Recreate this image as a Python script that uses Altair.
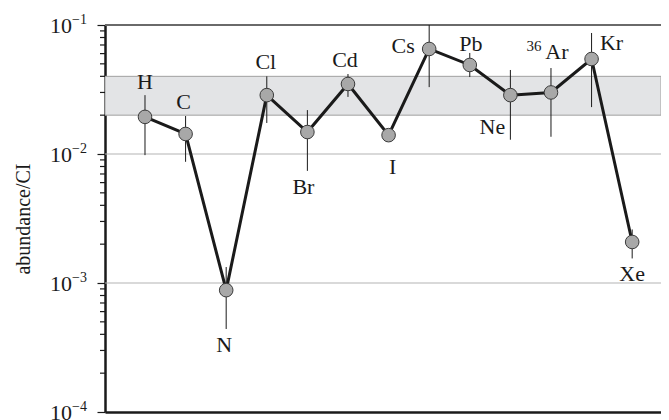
import altair as alt
import pandas as pd

# ---- data ----
elements = ["H", "C", "N", "Cl", "Br", "Cd", "I", "Cs", "Pb", "Ne", "Ar", "Kr", "Xe"]
abundance = [0.0194, 0.0143, 0.00088, 0.0286, 0.0148, 0.0349, 0.0140, 0.0652, 0.0490, 0.0286, 0.0300, 0.0545, 0.00208]
err_low = [0.0098, 0.0087, 0.00044, 0.0174, 0.0074, 0.0277, 0.0133, 0.0330, 0.0395, 0.0129, 0.0136, 0.0231, 0.00155]
err_high = [0.0286, 0.0197, 0.00133, 0.0400, 0.0219, 0.0417, 0.0148, 0.1000, 0.0607, 0.0448, 0.0464, 0.0867, 0.0026]
label_dx = [0, -2, -2, -1, -4, -3, 4, -26, 1, -18, 6, 20, 0]
label_dy = [-35, -32, 55, -33, 55, -24, 32, -3, -21, 32, -40, -16, 32]
band = [0.02, 0.04]
grid_values = [0.001, 0.01]
top_value = [0.1]
major_ticks = [1e-4, 1e-3, 1e-2, 1e-1]
tick_base = ["10", "10", "10", "10"]
tick_exp = ["−4", "−3", "−2", "−1"]
minor_ticks = [m * 10.0 ** e for e in (-4, -3, -2) for m in range(2, 10)]

W, H = 556, 387
FONT = "Liberation Serif"
INK = "#1a1a1a"

df = pd.DataFrame({
    "i": list(range(len(elements))),
    "el": elements,
    "v": abundance,
    "lo": err_low,
    "hi": err_high,
})

xs = alt.Scale(domain=[-0.985, 12.71])
ys = alt.Scale(type="log", domain=[1e-4, 1e-1])

x_enc = alt.X("i:Q", scale=xs, axis=alt.Axis(labels=False, ticks=False, grid=False, title=None,
                                            domainColor=INK, domainWidth=2.5))
y_axis = alt.Axis(values=major_ticks, labels=False, grid=False, title="abundance/CI",
                  domainColor=INK, domainWidth=2.5, tickColor=INK, tickSize=8,
                  tickWidth=1.2, titleFont=FONT, titleFontSize=20, titleFontWeight="normal",
                  titleColor=INK, titlePadding=63)

band_df = pd.DataFrame({"lo": [band[0]], "hi": [band[1]]})
band_layer = alt.Chart(band_df).mark_rect(fill="#e3e4e6", stroke="#a0a0a0", strokeWidth=1).encode(
    x=alt.value(0), x2=alt.value(W),
    y=alt.Y("lo:Q", scale=ys), y2="hi:Q")

grid_layer = alt.Chart(pd.DataFrame({"g": grid_values})).mark_rule(color="#b4b4b4", strokeWidth=1.2).encode(
    x=alt.value(0), x2=alt.value(W), y=alt.Y("g:Q", scale=ys))

top_layer = alt.Chart(pd.DataFrame({"g": top_value})).mark_rule(color="#6a6a6a", strokeWidth=2).encode(
    x=alt.value(0), x2=alt.value(W), y=alt.Y("g:Q", scale=ys))

minor_layer = alt.Chart(pd.DataFrame({"m": minor_ticks})).mark_rule(color=INK, strokeWidth=1.2).encode(
    x=alt.value(-5), x2=alt.value(0), y=alt.Y("m:Q", scale=ys))

tick_df = pd.DataFrame({"t": major_ticks, "b": tick_base, "e": tick_exp})
tick_base_layer = alt.Chart(tick_df).mark_text(font=FONT, fontSize=22, color=INK, align="right",
                                               baseline="middle", dy=1).encode(
    x=alt.value(-33), y=alt.Y("t:Q", scale=ys), text="b:N")
tick_exp_layer = alt.Chart(tick_df).mark_text(font=FONT, fontSize=14, color=INK, align="left",
                                              baseline="middle", dy=-5).encode(
    x=alt.value(-33), y=alt.Y("t:Q", scale=ys), text="e:N")

base = alt.Chart(df)
err_layer = base.mark_rule(color=INK, strokeWidth=1).encode(
    x=x_enc, y=alt.Y("lo:Q", scale=ys, axis=y_axis), y2="hi:Q")
line_layer = base.mark_line(color=INK, strokeWidth=3).encode(
    x=x_enc, y=alt.Y("v:Q", scale=ys))
pt_layer = base.mark_circle(size=185, color="#a8a8a8", stroke="#3a3a3a", strokeWidth=1, opacity=1).encode(
    x=x_enc, y=alt.Y("v:Q", scale=ys))

text_layers = []
for k in range(len(elements)):
    row = df.iloc[[k]]
    text_layers.append(
        alt.Chart(row).mark_text(font=FONT, fontSize=22, color=INK, align="center",
                                 baseline="middle", dx=label_dx[k], dy=label_dy[k]).encode(
            x=x_enc, y=alt.Y("v:Q", scale=ys), text="el:N"))

# superscript mass number for argon
ar_row = df[df["el"] == "Ar"].assign(mass="36")
sup_layer = alt.Chart(ar_row).mark_text(font=FONT, fontSize=15, color=INK, align="center",
                                        baseline="middle", dx=-17, dy=-46).encode(
    x=x_enc, y=alt.Y("v:Q", scale=ys), text="mass:N")

chart = alt.layer(band_layer, grid_layer, top_layer, minor_layer, tick_base_layer, tick_exp_layer,
                  err_layer, line_layer, pt_layer, *text_layers, sup_layer).properties(
    width=W, height=H, autosize="none",
    padding={"left": 97, "top": 17, "right": 0, "bottom": 8},
).configure_view(stroke=None).configure(background="white")

chart.save("out.html", embed_options={"renderer": "svg", "actions": False})
